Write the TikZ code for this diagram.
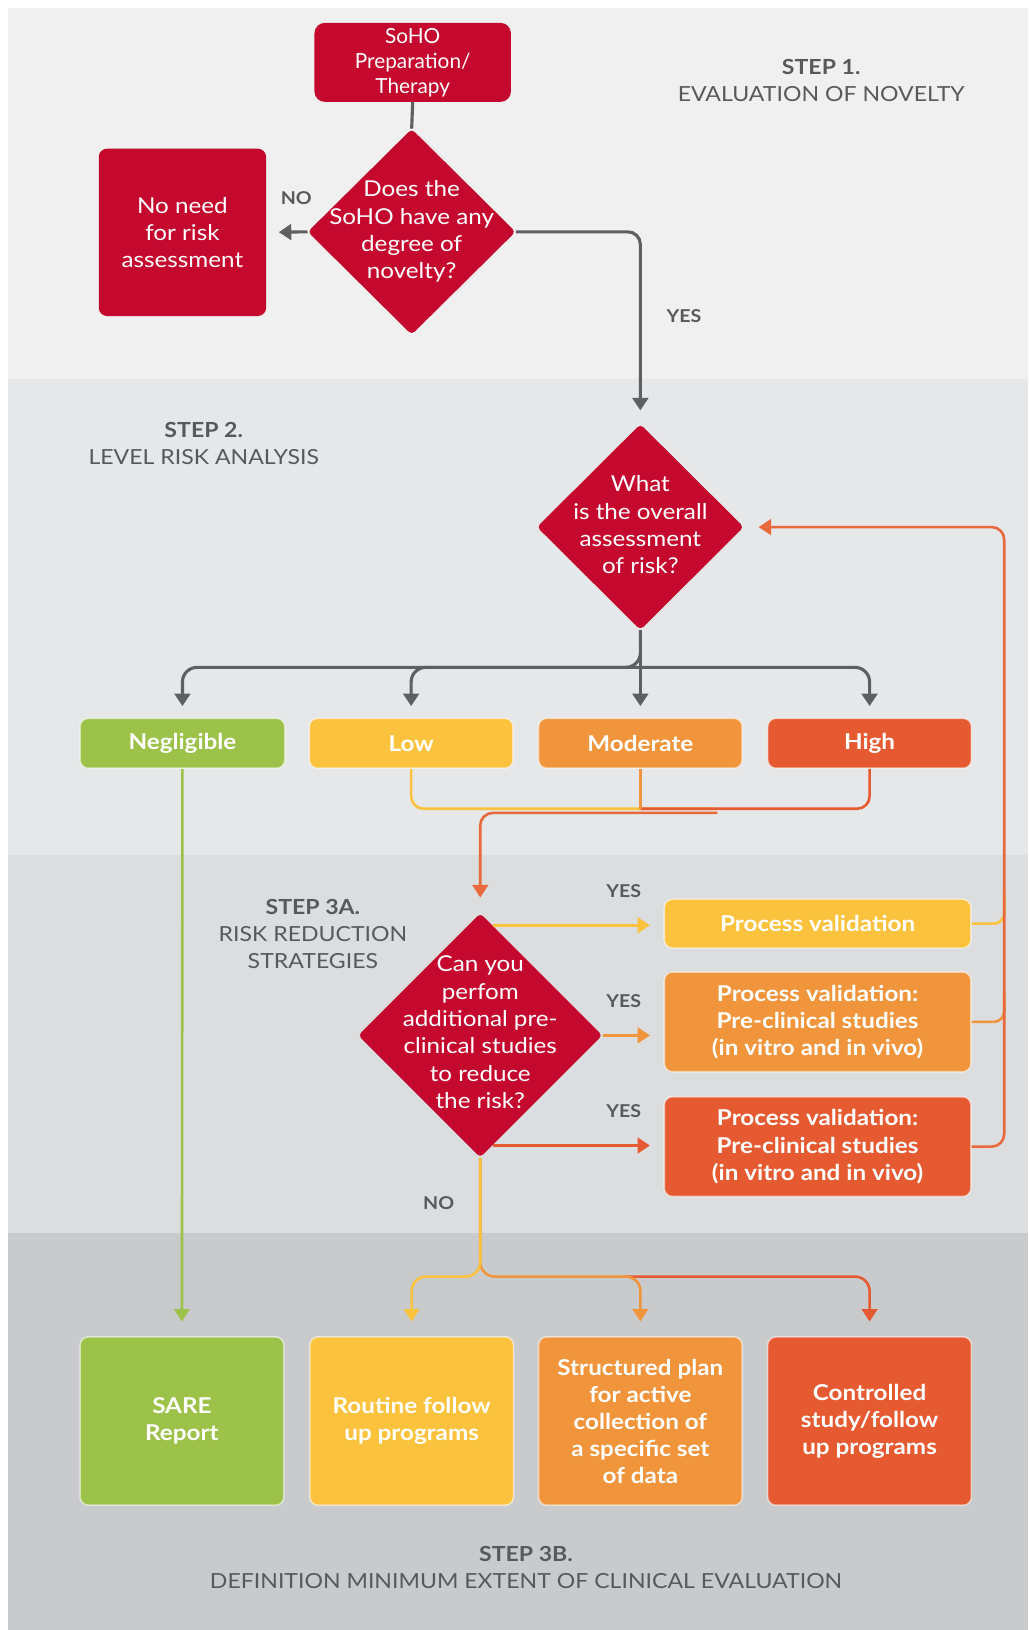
\documentclass[tikz,border=0pt]{standalone}
\usepackage{fontspec}
\setmainfont{Lato}[FakeStretch=1.11]
\newfontfamily\plainlato{Lato}
\usetikzlibrary{arrows.meta,shapes.geometric,calc}
\definecolor{dred}{HTML}{C5082D}
\definecolor{cgreen}{HTML}{9DC24A}
\definecolor{cyellow}{HTML}{FBC23D}
\definecolor{corange}{HTML}{F0953B}
\definecolor{cred}{HTML}{E65A32}
\definecolor{cgray}{HTML}{5E5F61}
\definecolor{txtgray}{HTML}{58595B}
\definecolor{bandA}{HTML}{F0F0F1}
\definecolor{bandB}{HTML}{E6E7E8}
\definecolor{bandC}{HTML}{DCDDDE}
\definecolor{bandD}{HTML}{C9CACC}
\definecolor{fbred}{HTML}{E8693C}
\begin{document}
\begin{tikzpicture}[x=1pt,y=-1pt,
  redbox/.style={fill=dred, rounded corners=10pt, text=white, align=center, font=\fontsize{21}{26}\selectfont, inner sep=0pt},
  dia/.style={diamond, fill=dred, aspect=1, inner sep=0pt, rounded corners=4pt},
  diatext/.style={text=white, align=center, font=\fontsize{21}{26.3}\selectfont},
  cbox/.style={rounded corners=8pt, text=white, align=center, font=\bfseries\fontsize{21}{26}\selectfont, inner sep=0pt, draw=white, draw opacity=0.55, line width=1.5pt},
  steplbl/.style={text=txtgray, align=center, font=\fontsize{20}{26}\selectfont},
  ylbl/.style={text=txtgray, font=\bfseries\fontsize{17}{18}\selectfont},
  tipA/.style={-{Triangle[width=15pt,length=12pt]}},
  garrow/.style={draw=cgray, line width=3pt, tipA},
  cline/.style={line width=2.5pt},
]
\fill[white] (0,0) rectangle (989,1568);
\useasboundingbox (0,0) rectangle (989,1568);
\fill[bandA] (8,8) rectangle (989,365);
\fill[bandB] (8,365) rectangle (989,822);
\fill[bandC] (8,822) rectangle (989,1186);
\fill[bandD] (8,1186) rectangle (989,1568);

% step labels
\node[steplbl] (s1) at (790,77.5) {\textbf{STEP 1.}\\EVALUATION OF NOVELTY};
\node[steplbl] (s2) at (196,426.5) {\textbf{STEP 2.}\\LEVEL RISK ANALYSIS};
\node[steplbl] (s3a) at (301,898) {\textbf{STEP 3A.}\\RISK REDUCTION\\STRATEGIES};
\node[steplbl] (s3b) at (506,1508) {\textbf{STEP 3B.}\\DEFINITION MINIMUM EXTENT OF CLINICAL EVALUATION};

% step 1
\node[redbox, minimum width=189pt, minimum height=76pt, font=\plainlato\fontsize{20}{24}\selectfont] (soho) at (397,60) {SoHO\\Preparation/\\Therapy};
\node[dia, minimum width=200pt, minimum height=198pt] (d1) at (396,223) {};
\node[diatext] (d1t) at (d1.center) {Does the\\SoHO have any\\degree of\\novelty?};
\node[redbox, minimum width=161pt, minimum height=161pt, rounded corners=8pt] (nn) at (175.5,223.5) {No need\\for risk\\assessment};
\draw[cgray, line width=3pt] (soho.south) -- (d1.north);
\draw[garrow, shorten >=12pt] (d1.west) -- (nn.east);
\node[ylbl] (no1) at (285,191) {NO};

% step 2
\node[dia, minimum width=199pt, minimum height=198pt] (d2) at (616,507) {};
\node[diatext] (d2t) at (616,505) {What\\is the overall\\assessment\\of risk?};
\draw[garrow, rounded corners=12pt, shorten >=13pt] (d1.east) -| (d2.north);
\node[ylbl] (yes1) at (658,304) {YES};

\node[cbox, fill=cgreen, minimum width=197pt, minimum height=48pt] (neg) at (175.5,715) {Negligible};
\node[cbox, fill=cyellow, minimum width=196pt, minimum height=48pt] (low) at (395.5,715) {Low};
\node[cbox, fill=corange, minimum width=196pt, minimum height=48pt] (mod) at (616,715) {Moderate};
\node[cbox, fill=cred, minimum width=196pt, minimum height=48pt] (high) at (836.5,715) {High};

\coordinate (br) at (616,642);
\draw[garrow, rounded corners=14pt, shorten >=11pt] (d2.south) -- (br) -| (neg.north);
\draw[garrow, rounded corners=14pt, shorten >=11pt] (br) -| (low.north);
\draw[garrow, rounded corners=14pt, shorten >=11pt] (br) -| (high.north);
\draw[garrow, shorten >=11pt] (d2.south) -- (mod.north);

% step 3A
\node[dia, minimum width=235pt, minimum height=235pt] (d3) at (462,996) {};
\node[diatext] (d3t) at (462,993) {Can you\\perfom\\additional pre-\\clinical studies\\to reduce\\the risk?};

\coordinate (j1) at (690,778);
\coordinate (j2) at (690,782);
\draw[cline, cyellow, rounded corners=12pt] (low.south) |- (j1);
\draw[cline, cred, rounded corners=12pt] (high.south) |- (mod.south |- j1);
\draw[cline, corange] (mod.south) -- (mod.south |- j1);
\draw[cline, fbred, rounded corners=12pt, tipA, shorten >=15pt] (j2) -| (d3.north);

\node[cbox, fill=cyellow, minimum width=295pt, minimum height=47pt] (pv1) at (786.5,888.5) {Process validation};
\node[cbox, fill=corange, minimum width=295pt, minimum height=96pt] (pv2) at (786.5,983) {Process validation:\\Pre-clinical studies\\(in vitro and in vivo)};
\node[cbox, fill=cred, minimum width=295pt, minimum height=96pt] (pv3) at (786.5,1103) {Process validation:\\Pre-clinical studies\\(in vitro and in vivo)};

\coordinate (a1) at ($(d3.north)!0.1!(d3.east)$);
\coordinate (a3) at ($(d3.south)!0.1!(d3.east)$);
\draw[cline, cyellow, line width=3pt, tipA, shorten >=13pt] (a1) -- (a1 -| pv1.west);
\draw[cline, corange, line width=3pt, tipA, shorten >=13pt] (d3.east) -- (d3.east -| pv2.west);
\draw[cline, cred, line width=3pt, tipA, shorten >=13pt] (a3) -- (a3 -| pv3.west);
\node[ylbl] (yes2) at (600,857) {YES};
\node[ylbl] (yes3) at (600,963) {YES};
\node[ylbl] (yes4) at (600,1069) {YES};

% feedback
\draw[cline, cyellow, rounded corners=10pt] (pv1.east) -- (966,888.5) -- (966,860);
\draw[cline, corange, rounded corners=10pt] (pv2.east) -- (966,983) -- (966,955);
\draw[cline, fbred, rounded corners=12pt, tipA, shorten >=14pt] (pv3.east) -- (966,1103) -- (966,507) -- (d2.east);

% step 3B
\node[ylbl] (no2) at (422,1157) {NO};
\node[cbox, fill=cgreen, minimum width=196pt, minimum height=162pt] (sare) at (175,1367) {SARE\\Report};
\node[cbox, fill=cyellow, minimum width=196pt, minimum height=162pt] (rout) at (396,1367) {Routine follow\\up programs};
\node[cbox, fill=corange, minimum width=196pt, minimum height=162pt] (str) at (616,1367) {Structured plan\\for active\\collection of\\a specific set\\of data};
\node[cbox, fill=cred, minimum width=196pt, minimum height=162pt] (ctrl) at (836.5,1367) {Controlled\\study/follow\\up programs};

\coordinate (sp) at (462,1228);
\draw[cline, cred, rounded corners=14pt, tipA, shorten >=14pt] (600,1228) -| (ctrl.north);
\draw[cline, corange, rounded corners=14pt, tipA, shorten >=14pt] (d3.south) -- (sp) -| (str.north);
\draw[cline, cyellow, rounded corners=14pt, tipA, shorten >=14pt] (d3.south) -- (sp) -| (rout.north);
\draw[cline, cgreen, tipA, shorten >=14pt] (neg.south) -- (sare.north);
\end{tikzpicture}
\end{document}
